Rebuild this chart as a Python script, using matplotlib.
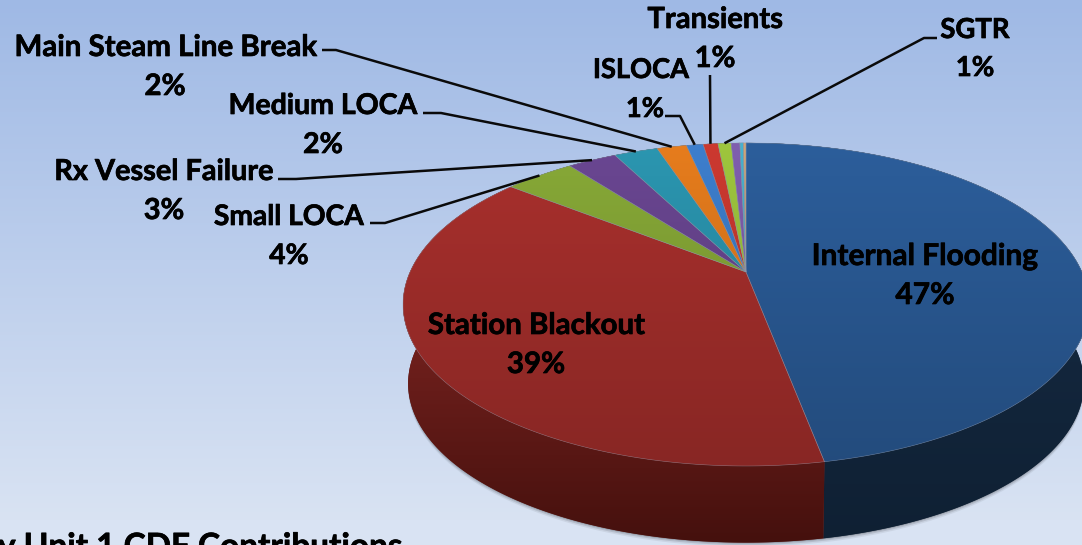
# Unit 1 CDF contributions - 3D looking pie drawn on a pixel sized axes
import numpy as np
import matplotlib
matplotlib.use('Agg')
import matplotlib.pyplot as plt
import matplotlib.patheffects as pe
from matplotlib.patches import Polygon
from matplotlib.colors import to_rgb

plt.rcParams['font.family'] = ['Lato', 'DejaVu Sans']

# slice shares, clockwise from 12 o'clock
slice_names = ['Internal Flooding', 'Station Blackout', 'Small LOCA', 'Rx Vessel Failure',
               'Medium LOCA', 'Main Steam Line Break', 'ISLOCA', 'Transients', 'SGTR',
               'Other 1', 'Other 2', 'Other 3']
slice_values = [47.0, 38.6, 4.0, 2.8, 2.5, 1.7, 0.95, 0.85, 0.75, 0.5, 0.2, 0.15]
slice_colors = ['#2b5c98', '#a62f2c', '#85a636', '#68458f', '#2a93ad', '#e27a1c',
                '#3c7cc9', '#c8382f', '#9bc23c', '#7d5cab', '#45aecb', '#cda274']
pct_labels = ['47%', '39%', '4%', '3%', '2%', '2%', '1%', '1%', '1%']

# pie geometry (pixels)
CX, CY = 746, 272
R, A, K = 336, 155, 0.201
MID_Y = 305
DEPTH = 79
BOTTOM_SCALE = 0.985


def project(angle, lower=False):
    # angle in degrees clockwise from top, perspective look of a tilted disc
    t = np.radians(angle)
    d = 1 + K * np.cos(t)
    x = R * np.sin(t) / d
    y = CY - A * np.cos(t) / d
    if lower:
        return CX + x * BOTTOM_SCALE, MID_Y + (y - MID_Y) * BOTTOM_SCALE + DEPTH
    return CX + x, y


def scale_col(col, f):
    return np.clip(np.array(to_rgb(col)) * f, 0, 1)


def grad_fill(ax, pts, c_top, c_bot, y0, y1, zorder):
    # vertical gradient clipped by a polygon
    ys = np.clip((np.arange(545) - y0) / (y1 - y0), 0, 1)[:, None, None]
    img = (1 - ys) * np.array(c_top)[None, None, :] + ys * np.array(c_bot)[None, None, :]
    base = Polygon(pts, closed=True, fc=tuple((np.array(c_top) + np.array(c_bot)) / 2),
                   ec='none', zorder=zorder)
    ax.add_patch(base)
    im = ax.imshow(img, extent=(0, 1082, 545, 0), aspect='auto', zorder=zorder)
    clip = Polygon(pts, closed=True, transform=ax.transData)
    im.set_clip_path(clip)


def label(ax, x, y, s, size):
    ax.text(x, y, s, fontsize=size, fontweight='bold', ha='center', va='center', color='black',
            zorder=6, path_effects=[pe.withStroke(linewidth=0.5, foreground='black')])


fig = plt.figure(figsize=(10.82, 5.45), dpi=100)
ax = fig.add_axes([0, 0, 1, 1])
ax.axis('off')

# background
grad_fill(ax, [(0, 0), (1082, 0), (1082, 545), (0, 545)],
          to_rgb('#9fb9e5'), to_rgb('#d9e3f3'), 0, 520, 0)

edges = np.concatenate([[0], np.cumsum(slice_values)]) * 3.6
mids = (edges[:-1] + edges[1:]) / 2

# soft shadow under the pie
a = np.linspace(0, 360, 361)
lx, ly = project(a, lower=True)
for off, alpha in [(4, 0.10), (2.5, 0.18), (1, 0.30)]:
    ax.add_patch(Polygon(np.column_stack([lx, ly + off]), closed=True,
                         fc='#50545c', alpha=alpha, ec='none', zorder=1))

# side walls
for i, col in enumerate(slice_colors):
    a = np.linspace(edges[i], edges[i + 1], 200)
    tx, ty = project(a)
    bx, by = project(a, lower=True)
    pts = np.column_stack([np.r_[tx, bx[::-1]], np.r_[ty, by[::-1]]])
    if i == 0:
        c_top, c_bot = to_rgb('#14283f'), to_rgb('#0f2033')
    elif i == 1:
        c_top, c_bot = to_rgb('#7a2320'), to_rgb('#44100d')
    else:
        c_top, c_bot = scale_col(col, 0.5), scale_col(col, 0.35)
    grad_fill(ax, pts, c_top, c_bot, 300, 545, 2)

# top faces
for i, col in enumerate(slice_colors):
    a = np.linspace(edges[i], edges[i + 1], 200)
    tx, ty = project(a)
    pts = np.column_stack([np.r_[CX, tx], np.r_[CY, ty]])
    grad_fill(ax, pts, scale_col(col, 1.02), scale_col(col, 0.82), 143, 465, 3)
    ax.add_patch(Polygon(pts, closed=True, fc='none', ec='#8f97a8', lw=0.4, alpha=0.6, zorder=4))

# labels inside the pie
label(ax, 925, 256, slice_names[0], 21.5)
label(ax, 925, 295, pct_labels[0], 21.5)
label(ax, 536, 326, slice_names[1], 21.2)
label(ax, 536, 365, pct_labels[1], 21.2)

# outside labels: slice index, font size, name pos, pct pos, leader elbow points
outside = [
    (2, 20.3, (289, 217), (289, 256), [(370, 223), (385, 223)]),
    (3, 20.8, (164, 172), (164, 211), [(278, 179), (296, 179)]),
    (4, 20.5, (323, 106), (323, 145), [(423, 113), (441, 113)]),
    (5, 21.2, (165, 48), (165, 87), [(322, 50), (336, 50)]),
    (6, 19.6, (641, 70), (645, 109), [(665, 116), (680, 116)]),
    (7, 21.0, (715, 20), (715, 59), [(710, 75), (710, 76)]),
    (8, 19.8, (975, 30), (975, 68), [(937, 38), (924, 38)]),
]
for idx, size, name_pos, pct_pos, elbow in outside:
    label(ax, name_pos[0], name_pos[1], slice_names[idx], size)
    label(ax, pct_pos[0], pct_pos[1], pct_labels[idx], size)
    ex, ey = project(mids[idx])
    xs = [p[0] for p in elbow] + [ex]
    ys = [p[1] for p in elbow] + [ey]
    ax.plot(xs, ys, color='#0a0a0a', lw=1.8, zorder=5, solid_capstyle='butt')

# cut off heading at the bottom of the crop
ax.text(-2, 533, 'y Unit 1 CDF Contributions', fontsize=24, fontweight='bold',
        ha='left', va='top', color='black', zorder=6,
        path_effects=[pe.withStroke(linewidth=0.5, foreground='black')])

ax.set_xlim(0, 1082)
ax.set_ylim(545, 0)

fig.savefig('out.png', dpi=100)
